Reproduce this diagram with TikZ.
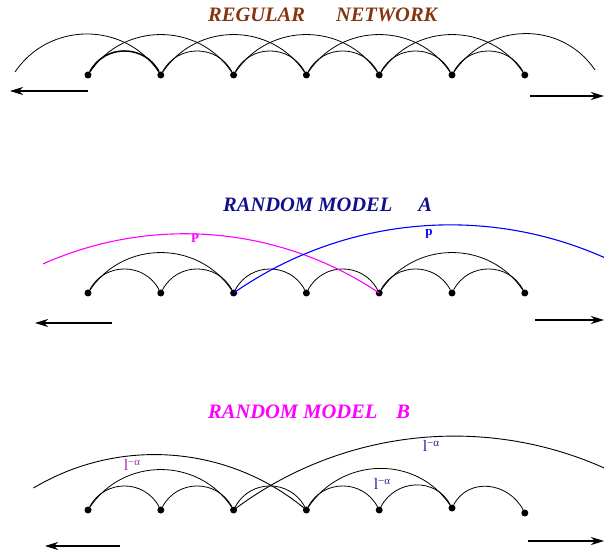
\documentclass[tikz,border=0pt]{standalone}
\usepackage{fontspec}
\setmainfont{Liberation Serif}
\usetikzlibrary{arrows.meta}
\definecolor{titlebrown}{HTML}{853510}
\definecolor{titlenavy}{HTML}{10108C}
\definecolor{fuchsia}{RGB}{255,0,255}
\definecolor{pureblue}{RGB}{0,0,255}
\definecolor{labviolet}{HTML}{A82AAE}
\definecolor{labblue}{HTML}{2020A8}
\newcommand{\lalpha}{l\raisebox{5.5pt}{\fontsize{11}{12}\selectfont −α}}
\tikzset{
  >={Stealth[length=13pt,width=8pt,inset=4pt]},
  % ketten
  site/.style={circle,fill=black,inner sep=0pt,minimum size=7pt},
  nn/.style={draw=black,line width=0.8pt,out=62,in=118,looseness=1.16},
  nnn/.style={draw=black,line width=0.8pt,out=56,in=124,looseness=1.09},
  longlink/.style={draw=black,line width=0.9pt},
  shiftarr/.style={->,draw=black,line width=1.1pt},
  title/.style={inner sep=0pt,anchor=base west,
                font=\fontsize{20.5}{24}\selectfont\bfseries\itshape},
  plab/.style={inner sep=0pt,font=\fontsize{13}{15}\selectfont\bfseries},
  llab/.style={inner sep=0pt,font=\fontsize{16}{18}\selectfont},
}

\begin{document}
\begin{tikzpicture}[x=1pt,y=1pt]
  \useasboundingbox (0,0) rectangle (604,554);
  % regulaeres netz
  \node[title,text=titlebrown] (treg) at (208,532) {REGULAR\hspace{31pt}NETWORK};
  \foreach \i in {0,...,6}
    \node[site] (r\i) at ({88+72.8*\i},479) {};
  \coordinate (rl) at (15,482);
  \coordinate (rr) at (595,484);
  \draw[nn,line width=1.5pt] (r0) to (r1);
  \foreach \i/\j in {1/2,2/3,3/4,4/5,5/6}
    \draw[nn] (r\i) to (r\j);
  \foreach \i/\j in {0/2,1/3,2/4,3/5,4/6}
    \draw[nnn] (r\i) to (r\j);
  \draw[nnn] (rl) to (r1);
  \draw[nnn] (r5) to (rr);
  \coordinate (rla) at (88,463);  \coordinate (rlb) at (10,463);
  \coordinate (rra) at (530,458); \coordinate (rrb) at (604,458);
  \draw[shiftarr] (rla) -- (rlb);
  \draw[shiftarr] (rra) -- (rrb);

  % modell A
  \node[title,text=titlenavy] (ta) at (223,342) {RANDOM MODEL\hspace{26pt}A};
  \foreach \i in {0,...,6}
    \node[site] (a\i) at ({88+72.8*\i},261) {};
  \foreach \i/\j in {0/1,1/2,2/3,3/4,4/5,5/6}
    \draw[nn] (a\i) to (a\j);
  \draw[nnn] (a0) to (a2);
  \draw[nnn] (a4) to (a6);
  \draw[fuchsia,line width=1.1pt] (a4.center) arc[start angle=56.1,end angle=114,radius=348.5];
  \draw[pureblue,line width=1.1pt] (a2.center) arc[start angle=124.9,end angle=65.9,radius=378.9];
  \node[plab,text=fuchsia] (pa) at (195,316) {P};
  \node[plab,text=pureblue] (pb) at (429,320) {p};
  \coordinate (ala) at (112,231); \coordinate (alb) at (35,231);
  \coordinate (ara) at (535,234); \coordinate (arb) at (604,234);
  \draw[shiftarr] (ala) -- (alb);
  \draw[shiftarr] (ara) -- (arb);

  % modell B
  \node[title,text=fuchsia] (tb) at (208,136) {RANDOM MODEL\hspace{19pt}B};
  \foreach \i/\y in {0/44,1/44,2/44,3/44,4/44,5/46,6/41}
    \node[site] (b\i) at ({88+72.8*\i},\y) {};
  \foreach \i/\j in {0/1,1/2,2/3,3/4,4/5,5/6}
    \draw[nn] (b\i) to (b\j);
  \draw[nnn] (b0) to (b2);
  \draw[nnn] (b3) to (b5);
  \draw[longlink] (b3.center) arc[start angle=49.9,end angle=120.9,radius=235.8];
  \draw[longlink] (b2.center) arc[start angle=127,end angle=65.8,radius=367.1];
  \node[llab,text=labviolet] (la) at (132,89) {\lalpha};
  \node[llab,text=labblue] (lb) at (431,108) {\lalpha};
  \node[llab,text=labblue] (lc) at (382,70) {\lalpha};
  \coordinate (bla) at (120,8); \coordinate (blb) at (45,8);
  \coordinate (bra) at (528,13); \coordinate (brb) at (604,13);
  \draw[shiftarr] (bla) -- (blb);
  \draw[shiftarr] (bra) -- (brb);
\end{tikzpicture}
\end{document}
